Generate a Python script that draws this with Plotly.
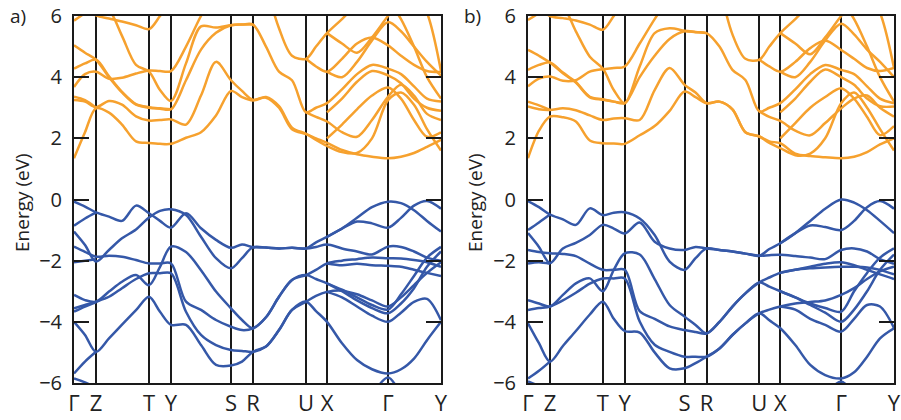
import plotly.graph_objects as go

N = None
# k-path sample positions (path units) and high-symmetry points
K = [0, 11, 22, 35, 48, 62, 75, 86, 97, 112, 127, 142, 157, 168, 179,
     192, 205, 218, 232, 242, 253, 268, 283, 298, 314, 327, 340, 353, 367]
SYM_POS = [0, 22, 75, 97, 157, 179, 232, 253, 314, 367]
SYM_LABELS = ["Γ", "Z", "T", "Y", "S", "R", "U", "X", "Γ", "Y"]
Y_TICKS = [-6, -4, -2, 0, 2, 4, 6]

# ---------------- panel a: conduction bands (eV) ----------------
ca1 = [1.35, 2.2, 2.98, 2.84, 2.45, 1.9, 1.85, 1.82, 1.82, 2.02, 2.2, 2.75, 3.55, 3.35, 3.24, 3.33, 3.0, 2.3, 2.14, 2.0, 1.85, 1.62, 1.48, 1.4, 1.35, 1.4, 1.52, 1.72, 1.95]
ca2 = [3.25, 3.2, 3.02, 3.22, 3.1, 2.72, 2.58, 2.6, 2.62, 2.45, 3.4, 4.5, 3.9, 3.55, 3.26, 3.35, 3.05, 2.35, 2.15, 1.95, 1.75, 1.55, 1.52, 2.0, 3.25, 3.5, 3.1, 2.3, 1.6]
ca3 = [5.04, 4.8, 4.57, 4.0, 3.5, 3.1, 3.0, 2.97, 2.95, 3.9, 4.9, 5.45, 5.7, 5.72, 5.72, 5.0, 4.18, 3.9, 2.85, 3.0, 3.15, 3.6, 4.1, 4.4, 4.28, 4.1, 3.7, 3.3, 3.2]
ca4 = [4.28, 4.45, 4.57, 4.03, 3.52, 3.12, 3.02, 2.98, 2.95] + [N] * 20
ca5 = [3.68, 4.1, 4.18, 3.95, 3.98, 4.12, 4.22, 4.2, 4.2, 5.0, 6.0, 6.8] + [N] * 17
ca6 = [5.85, 6.1, 6.4, 6.2, 5.35, 4.4, 4.18, 3.58, 3.22, 4.45, 5.66, 5.62, 5.7, 5.72, 5.72] + [N] * 14
ca7 = [N] * 15 + [7.0, 5.6, 4.7, 4.6, 5.0, 5.44, 5.9, 6.4] + [N] * 6
ca8 = [N, 6.3, 6.02, 5.92, 5.82, 5.7, 5.57, 6.0, 6.5] + [N] * 20
ca9 = [N] * 18 + [4.6, 4.35, 4.18, 4.6, 5.1, 5.3, 5.04, 4.7, 4.4, 4.2, 4.17]
ca10 = [N] * 18 + [2.85, 2.7, 2.55, 2.2, 2.05, 2.6, 3.36, 3.75, 3.4, 2.8, 2.6]
ca11 = [N] * 20 + [2.0, 2.45, 2.95, 3.4, 3.66, 3.3, 2.6, 2.05, 2.2]
ca12 = [N] * 20 + [2.85, 3.3, 3.85, 4.2, 4.06, 3.8, 3.3, 3.0, 2.9]
ca13 = [N] * 20 + [4.18, 4.0, 4.5, 5.2, 5.8, 5.5, 5.0, 4.5, 4.05]
ca14 = [N] * 20 + [5.44, 5.1, 4.8, 5.3, 6.0, 6.5, N, N, N]
ca15 = [N] * 26 + [6.8, 6.1, 4.2]
ca16 = [N] * 24 + [6.5, 5.9, 5.0, 4.0, 3.3]
ca17 = [3.36, 3.25, 3.0] + [N] * 26

# ---------------- panel a: valence bands (eV) ----------------
va1 = [-0.07, -0.23, -0.42, -0.56, -0.7, -0.2, -0.45, -0.7, -0.92, -0.45, -0.94, -1.32, -1.58, -1.47, -1.56, -1.57, -1.6, -1.58, -1.6, -1.4, -1.22, -0.95, -0.6, -0.25, -0.07, -0.12, -0.35, -0.7, -1.05]
va2 = [-0.86, -0.62, -0.43] + [N] * 26
va3 = [-1.05, -1.49, -2.03, -1.65, -1.27, -0.98, -0.59, -0.37, -0.32, -0.51, -1.22, -1.92, -2.25, -1.92, -1.56, -1.57, -1.6, -1.58, -1.6, -1.55, -1.47, -1.6, -1.7, -1.8, -1.54, -1.55, -1.7, -1.9, -2.0]
va4 = [-1.54, -1.71, -1.87, -1.84, -1.87, -1.98, -2.09, -2.09, -2.09, -3.34, -3.61, -3.94, -4.16, -4.27, -4.21, -3.85, -3.18, -2.63, -2.47, -2.3, -2.09, -2.0, -1.95, -1.9, -1.92, -1.93, -1.98, -2.05, -2.2]
va5 = [-2.05, -2.0, -1.95] + [N] * 26
va6 = [-3.12, -3.29, -3.34, -3.01, -2.69, -2.47, -2.8, -2.2, -1.54, -1.72, -2.31, -3.01, -3.56, -3.94, -4.21, -3.85, -3.18, -2.63, -2.47, -2.6, -2.74, -2.95, -3.2, -3.45, -3.6, -3.1, -2.5, -1.9, -1.55]
va7 = [-3.56, -3.45, -3.34, -3.18, -2.9, -2.6, -2.41, -2.41, -2.41, -3.67, -4.43, -4.76, -4.92, -4.95, -4.98, -4.81, -4.27, -3.61, -3.34, -3.15, -3.02, -2.98, -3.1, -3.3, -3.5, -3.2, -2.8, -2.4, -2.05]
va8 = [-3.67, -3.5, -3.36] + [N] * 26
va9 = [-4.0, -4.43, -4.98, -4.54, -4.09, -3.62, -3.18, -3.67, -4.1, -4.1, -4.76, -5.41, -5.43, -5.3, -4.98, -4.81, -4.27, -3.61, -3.34, -3.65, -4.0, -4.7, -5.25, -5.55, -5.69, -5.55, -5.2, -4.6, -4.0]
va10 = [-5.69, -5.3, -4.98] + [N] * 26
va11 = [-5.85, -5.98, -6.15] + [N] * 26
va12 = [N] * 20 + [-1.22, -0.95, -0.72, -0.78, -0.92, -0.6, -0.2, -0.05, -0.3]
va13 = [N] * 20 + [-2.09, -2.15, -2.1, -2.15, -2.17, -2.2, -2.3, -2.4, -2.5]
va14 = [N] * 20 + [-2.74, -3.0, -3.3, -3.55, -3.72, -3.4, -2.9, -2.2, -1.7]
va15 = [N] * 20 + [-3.02, -3.2, -3.5, -3.8, -4.0, -3.7, -3.35, -3.25, -3.95]
va16 = [N] * 23 + [-6.4, -5.82, -6.4, N, N, N]

# ---------------- panel b: conduction bands (eV) ----------------
cb1 = [1.35, 2.25, 2.71, 2.69, 2.55, 1.93, 1.84, 1.83, 1.82, 2.1, 2.4, 2.9, 3.53, 3.35, 3.15, 3.2, 2.95, 2.2, 2.06, 1.9, 1.84, 1.5, 1.42, 1.38, 1.35, 1.4, 1.55, 1.8, 2.0]
cb2 = [3.04, 2.95, 2.93, 2.98, 2.92, 2.75, 2.6, 2.65, 2.66, 2.6, 3.58, 4.3, 3.75, 3.5, 3.15, 3.2, 2.95, 2.2, 2.06, 1.85, 1.68, 1.45, 1.5, 2.0, 3.15, 3.5, 3.0, 2.3, 1.6]
cb3 = [4.89, 4.7, 4.48, 4.13, 3.82, 3.34, 3.26, 3.2, 3.15, 4.0, 4.7, 5.25, 5.5, 5.47, 5.44, 5.0, 4.24, 3.91, 2.88, 3.0, 3.15, 3.6, 4.1, 4.4, 4.24, 4.1, 3.7, 3.3, 3.15]
cb4 = [4.24, 4.4, 4.48, 4.15, 3.84, 3.36, 3.28, 3.2, 3.15] + [N] * 20
cb5 = [3.7, 3.95, 4.02, 3.88, 3.9, 4.18, 4.26, 4.3, 4.35, 5.1, 5.9, 6.6] + [N] * 17
cb6 = [5.87, 6.1, 6.4, 6.3, 5.5, 4.67, 4.28, 3.58, 3.15, 4.35, 5.44, 5.6, 5.52, 5.48, 5.44] + [N] * 14
cb7 = [N] * 15 + [7.0, 5.4, 4.6, 4.57, 5.0, 5.44, 5.9, 6.4] + [N] * 6
cb8 = [N, 6.3, 6.0, 5.93, 5.85, 5.72, 5.55, 6.0, 6.5] + [N] * 20
cb9 = [N] * 18 + [4.57, 4.35, 4.18, 4.5, 4.95, 5.2, 4.89, 4.6, 4.3, 4.2, 4.3]
cb10 = [N] * 18 + [2.88, 2.7, 2.57, 2.25, 2.1, 2.5, 2.98, 3.3, 3.4, 3.0, 2.71]
cb11 = [N] * 20 + [2.0, 2.5, 3.0, 3.35, 3.64, 3.3, 2.7, 2.1, 2.4]
cb12 = [N] * 20 + [2.85, 3.3, 3.85, 4.25, 4.0, 3.75, 3.3, 3.05, 3.04]
cb13 = [N] * 20 + [4.18, 4.0, 4.5, 5.2, 5.75, 5.4, 4.9, 4.5, 4.0]
cb14 = [N] * 20 + [5.44, 5.1, 4.75, 5.3, 6.0, 6.5, N, N, N]
cb15 = [N] * 26 + [6.8, 6.1, 4.3]
cb16 = [N] * 24 + [6.5, 5.9, 5.0, 4.0, 3.2]
cb17 = [3.2, 3.08, 2.93] + [N] * 26

# ---------------- panel b: valence bands (eV) ----------------
vb1 = [-0.05, -0.25, -0.49, -0.65, -0.83, -0.29, -0.51, -0.43, -0.42, -0.62, -1.16, -2.03, -2.3, -1.92, -1.6, -1.65, -1.7, -1.77, -1.84, -1.62, -1.43, -1.1, -0.7, -0.3, 0.0, -0.1, -0.35, -0.7, -1.1]
vb2 = [-1.0, -0.75, -0.49] + [N] * 26
vb3 = [-1.1, -1.55, -2.08, -1.6, -1.42, -1.16, -0.83, -0.95, -1.11, -0.75, -1.38, -1.6, -1.65, -1.55, -1.6, -1.65, -1.7, -1.77, -1.84, -1.82, -1.81, -1.85, -1.9, -1.95, -1.65, -1.6, -1.7, -1.95, -2.1]
vb4 = [-1.65, -1.72, -1.76, -1.78, -1.85, -2.1, -2.3, -2.3, -2.3, -3.65, -3.9, -4.15, -4.27, -4.33, -4.38, -4.0, -3.5, -3.07, -2.71, -2.55, -2.4, -2.3, -2.25, -2.22, -2.2, -2.2, -2.22, -2.3, -2.45]
vb5 = [-2.09, -2.05, -2.1] + [N] * 26
vb6 = [-3.29, -3.4, -3.5, -3.12, -2.74, -2.58, -3.0, -2.3, -1.76, -1.8, -2.6, -3.45, -3.83, -4.1, -4.38, -4.0, -3.5, -3.07, -2.71, -2.85, -3.0, -3.2, -3.4, -3.55, -3.67, -3.0, -2.4, -1.9, -1.6]
vb7 = [-3.61, -3.55, -3.5, -3.3, -3.05, -2.75, -2.58, -2.58, -2.58, -3.99, -4.75, -4.98, -5.14, -5.14, -5.14, -4.87, -4.43, -4.05, -3.72, -3.6, -3.5, -3.4, -3.35, -3.3, -3.12, -2.9, -2.6, -2.35, -2.2]
vb9 = [-4.05, -4.7, -5.3, -4.79, -4.3, -3.76, -3.34, -3.9, -4.3, -4.35, -5.0, -5.52, -5.52, -5.35, -5.14, -4.87, -4.43, -4.05, -3.72, -3.95, -4.21, -4.76, -5.41, -5.74, -5.85, -5.65, -5.14, -4.54, -4.21]
vb10 = [-5.85, -5.6, -5.3] + [N] * 26
vb11 = [-5.95, -6.1, -6.3] + [N] * 26
vb12 = [N] * 20 + [-1.43, -1.1, -0.85, -0.9, -1.0, -0.7, -0.25, -0.05, -0.3]
vb13 = [N] * 20 + [-2.4, -2.3, -2.2, -2.1, -2.05, -2.15, -2.3, -2.45, -2.6]
vb14 = [N] * 20 + [-3.0, -3.2, -3.45, -3.7, -4.0, -3.6, -3.0, -2.3, -1.8]
vb15 = [N] * 20 + [-3.5, -3.6, -3.9, -4.1, -4.32, -3.9, -3.45, -3.5, -4.2]
vb16 = [N] * 23 + [-6.4, -5.95, -6.4, N, N, N]

COND_A = [ca1, ca2, ca3, ca4, ca5, ca6, ca7, ca8, ca9, ca10, ca11, ca12, ca13, ca14, ca15, ca16, ca17]
VAL_A = [va1, va2, va3, va4, va5, va6, va7, va8, va9, va10, va11, va12, va13, va14, va15, va16]
COND_B = [cb1, cb2, cb3, cb4, cb5, cb6, cb7, cb8, cb9, cb10, cb11, cb12, cb13, cb14, cb15, cb16, cb17]
VAL_B = [vb1, vb2, vb3, vb4, vb5, vb6, vb7, vb9, vb10, vb11, vb12, vb13, vb14, vb15, vb16]

ORANGE = "#F6A12E"
BLUE = "#3558A8"
W, H = 901, 420

fig = go.Figure()


def add_bands(bands, color, xa, ya):
    for b in bands:
        fig.add_trace(go.Scatter(
            x=K, y=b, mode="lines", xaxis=xa, yaxis=ya,
            line=dict(color=color, width=2.5, shape="spline", smoothing=0.9),
            hoverinfo="skip", showlegend=False, connectgaps=False))


add_bands(COND_A, ORANGE, "x", "y")
add_bands(VAL_A, BLUE, "x", "y")
add_bands(COND_B, ORANGE, "x2", "y2")
add_bands(VAL_B, BLUE, "x2", "y2")

FONT = "Open Sans, Liberation Sans, sans-serif"
ydom = [1 - 383 / H, 1 - 16 / H]

xcommon = dict(range=[0, 367], tickmode="array", tickvals=SYM_POS, ticktext=SYM_LABELS,
               ticks="", showgrid=True, gridcolor="#1a1a1a", gridwidth=2,
               showline=True, linecolor="#1a1a1a", linewidth=2, mirror=True,
               zeroline=False, automargin=False,
               tickfont=dict(size=22, color="#222", family=FONT))
ycommon = dict(range=[-6, 6], tickmode="array", tickvals=Y_TICKS,
               ticks="inside", ticklen=15, tickwidth=2, tickcolor="#1a1a1a",
               showline=True, linecolor="#1a1a1a", linewidth=2, mirror="ticks",
               showgrid=False, zeroline=False, ticklabelstandoff=6, automargin=False,
               tickfont=dict(size=20, color="#222", family=FONT), domain=ydom)

fig.update_layout(
    width=W, height=H, margin=dict(l=0, r=0, t=0, b=0, autoexpand=False),
    paper_bgcolor="white", plot_bgcolor="white",
    xaxis=dict(domain=[74 / W, 441 / W], anchor="y", **xcommon),
    yaxis=dict(anchor="x", **ycommon),
    xaxis2=dict(domain=[528 / W, 894 / W], anchor="y2", **xcommon),
    yaxis2=dict(anchor="x2", **ycommon),
    annotations=[
        dict(text="a)", x=8 / W, y=1 - 16 / H, xref="paper", yref="paper",
             xanchor="left", yanchor="middle", showarrow=False,
             font=dict(size=19, color="#222", family=FONT)),
        dict(text="b)", x=462 / W, y=1 - 16 / H, xref="paper", yref="paper",
             xanchor="left", yanchor="middle", showarrow=False,
             font=dict(size=19, color="#222", family=FONT)),
        dict(text="Energy (eV)", x=22 / W, y=1 - 203 / H, xref="paper", yref="paper",
             xanchor="center", yanchor="middle", textangle=-90, showarrow=False,
             font=dict(size=19, color="#222", family=FONT)),
        dict(text="Energy (eV)", x=475 / W, y=1 - 203 / H, xref="paper", yref="paper",
             xanchor="center", yanchor="middle", textangle=-90, showarrow=False,
             font=dict(size=19, color="#222", family=FONT)),
    ],
)

fig.write_html("out.html")
